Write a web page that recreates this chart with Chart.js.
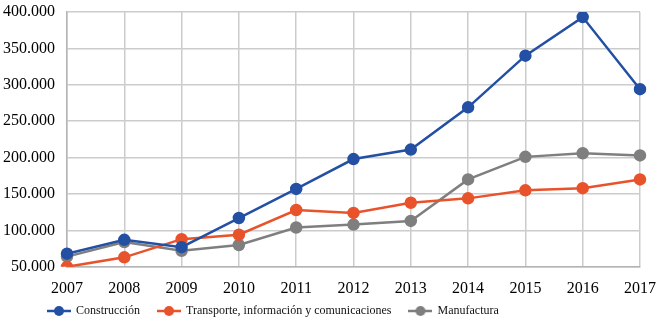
<!DOCTYPE html>
<html>
<head>
<meta charset="utf-8">
<script src="https://cdn.jsdelivr.net/npm/chart.js@4.4.1/dist/chart.umd.min.js"></script>
<style>
  html, body { margin: 0; padding: 0; background: #fff; }
  #wrap { width: 664px; height: 333px; }
</style>
</head>
<body>
<div id="wrap"><canvas id="grafico"></canvas></div>
<script>
const years = ['2007', '2008', '2009', '2010', '2011', '2012', '2013', '2014', '2015', '2016', '2017'];
const construccion = [68000, 87000, 77000, 117000, 157000, 198000, 211000, 269000, 340000, 393000, 294000];
const transporte = [50000, 63000, 88000, 94000, 128000, 124000, 138000, 144000, 155000, 158000, 170000];
const manufactura = [64000, 84000, 72000, 80000, 104000, 108000, 113000, 170000, 201000, 206000, 203000];
const seriesNames = ['Construcción', 'Transporte, información y comunicaciones', 'Manufactura'];
const seriesColors = ['#2450a4', '#e8532b', '#7f7f7f'];

function fmt(v) {
	return String(v).replace(/\B(?=(\d{3})+(?!\d))/g, '.');
}

// legend marker: short line with a dot
function legendMark(color) {
	let c = document.createElement('canvas');
	c.width = 24;
	c.height = 12;
	let g = c.getContext('2d');
	g.strokeStyle = color;
	g.lineWidth = 2.5;
	g.beginPath();
	g.moveTo(0, 6);
	g.lineTo(24, 6);
	g.stroke();
	g.fillStyle = color;
	g.beginPath();
	g.arc(12, 6, 5, 0, Math.PI * 2);
	g.fill();
	return c;
}

const marks = seriesColors.map(legendMark);
const serif = "'Liberation Serif', 'DejaVu Serif', serif";

// put the legend closer to the axis and a bit in from the left
const legendShift = {
	id: 'legendShift',
	afterLayout(chart) {
		chart.legend.left = 30;
		chart.legend.top -= 23;
	},
};

new Chart(document.getElementById('grafico'), {
	type: 'line',
	data: {
		labels: years,
		datasets: [construccion, transporte, manufactura].map((d, i) => ({
			label: seriesNames[i],
			data: d,
			borderColor: seriesColors[i],
			backgroundColor: seriesColors[i],
			borderWidth: 2.5,
			pointRadius: 5,
			pointHoverRadius: 5,
			tension: 0,
		})),
	},
	options: {
		responsive: true,
		maintainAspectRatio: false,
		animation: false,
		layout: { padding: { top: 12, left: 2, right: 24, bottom: -17 } },
		scales: {
			x: {
				grid: { color: '#cccccc', lineWidth: 1.5, drawTicks: false },
				border: { color: '#b4b4b4', width: 1.5 },
				ticks: { color: '#000', font: { family: serif, size: 16 }, padding: 12, maxRotation: 0 },
				afterFit: (s) => { s.paddingLeft = 0; s.paddingRight = 0; },
			},
			y: {
				min: 50000,
				max: 400000,
				grid: { color: '#cccccc', lineWidth: 1.5, drawTicks: false },
				border: { color: '#b4b4b4', width: 1.5 },
				ticks: {
					stepSize: 50000,
					color: '#000',
					font: { family: serif, size: 16 },
					padding: 12,
					callback: (v) => fmt(v),
				},
				afterFit: (s) => { s.width = 65; s.paddingTop = 0; s.paddingBottom = 0; },
			},
		},
		plugins: {
			legend: {
				position: 'bottom',
				align: 'start',
				labels: {
					color: '#111',
					font: { family: serif, size: 12 },
					usePointStyle: true,
					pointStyleWidth: 22,
					padding: 18,
					generateLabels: (chart) => {
						let items = Chart.defaults.plugins.legend.labels.generateLabels(chart);
						items.forEach((it, i) => { it.pointStyle = marks[i]; });
						return items;
					},
				},
			},
			tooltip: { enabled: false },
		},
	},
	plugins: [legendShift],
});
</script>
</body>
</html>
